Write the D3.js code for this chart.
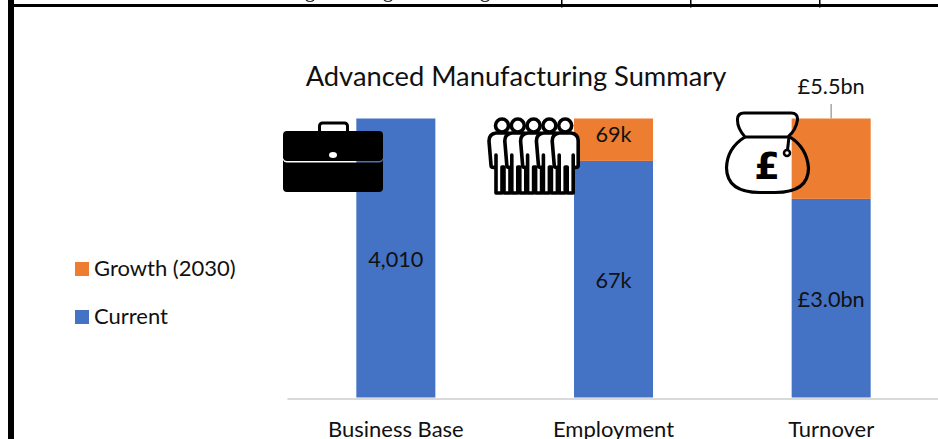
<!DOCTYPE html>
<html><head><meta charset="utf-8">
<script src="https://cdnjs.cloudflare.com/ajax/libs/d3/7.8.5/d3.min.js"></script>
<style>html,body{margin:0;padding:0;background:#fff;overflow:hidden}svg{display:block}text{font-family:Lato,"Open Sans",sans-serif;fill:#111}</style>
</head><body><svg id="c" width="938" height="439"></svg>
<script>
const categories=["Business Base","Employment","Turnover"];
const seriesNames=["Current","Growth (2030)"];
const currentShare=[100,84.8,71.2];
const growthShare=[0,15.2,28.8];
const currentLabels=["4,010","67k","£3.0bn"];
const growthLabels=["","69k","£5.5bn"];
const colors=["#4472c4","#ed7d31"];
const title="Advanced Manufacturing Summary";

const svg=d3.select("#c");
// page frame
svg.append("rect").attr("x",8).attr("y",0).attr("width",6).attr("height",439).attr("fill","#000");
svg.append("rect").attr("x",14).attr("y",4).attr("width",924).attr("height",3).attr("fill","#000");
[561,690,819].forEach(x=>svg.append("rect").attr("x",x).attr("y",0).attr("width",1.5).attr("height",7.5).attr("fill","#000"));
[310,388,485].forEach(x=>svg.append("path").attr("d",`M${x-4} 0q4 3 8 0`).attr("fill","none").attr("stroke","#222").attr("stroke-width",1.2));

const x=d3.scaleBand().domain(categories).range([287,940]).paddingInner(0.637).paddingOuter(0.3185);
const y=d3.scaleLinear().domain([0,100]).range([397.5,118.5]);
const rows=categories.map((c,i)=>({cat:c,[seriesNames[0]]:currentShare[i],[seriesNames[1]]:growthShare[i]}));
const stack=d3.stack().keys(seriesNames)(rows);
svg.selectAll("g.s").data(stack).join("g").attr("class","s").attr("fill",(d,i)=>colors[i])
 .selectAll("rect").data(d=>d).join("rect")
 .attr("x",d=>x(d.data.cat)).attr("width",x.bandwidth())
 .attr("y",d=>y(d[1])).attr("height",d=>y(d[0])-y(d[1]));

// axis
const ax=svg.append("g").attr("transform","translate(0,398.5)").call(d3.axisBottom(x).tickSize(0).tickPadding(23));
ax.select(".domain").attr("stroke","#d9d9d9").attr("stroke-width",2);
ax.selectAll("text").attr("font-size",22).style("font-family","Lato,sans-serif").attr("fill","#111");

svg.append("text").attr("x",516).attr("y",86).attr("text-anchor","middle").attr("font-size",27.3).text(title);

// data labels
const lab=(t,px,py)=>svg.append("text").attr("x",px).attr("y",py).attr("text-anchor","middle").attr("font-size",21.7).text(t);
categories.forEach((c,i)=>{
  const cx=x(c)+x.bandwidth()/2;
  lab(currentLabels[i],cx,[267,288,307][i]);
  if(i===1) lab(growthLabels[i],cx,142);
  if(i===2){
    lab(growthLabels[i],cx,94);
    svg.append("line").attr("x1",cx).attr("x2",cx).attr("y1",104).attr("y2",118.5).attr("stroke","#a6a6a6").attr("stroke-width",1.5);
  }
});

// legend
[[1,269],[0,317]].forEach(([i,ly])=>{
  svg.append("rect").attr("x",75).attr("y",ly-7).attr("width",14).attr("height",14).attr("fill",colors[i]);
  svg.append("text").attr("x",94).attr("y",ly+7).attr("font-size",22).text(seriesNames[i]);
});

// briefcase icon
const b=svg.append("g").attr("fill","#000");
b.append("path").attr("d","M319.500 132v-6a3 3 0 0 1 3-3h22a3 3 0 0 1 3 3v6").attr("fill","none").attr("stroke","#000").attr("stroke-width",3);
b.append("path").attr("d","M287 131h92a4 4 0 0 1 4 4v23q-1 3-4 3h-92q-3 0-4-3v-23a4 4 0 0 1 4-4z");
b.append("path").attr("d","M283 160q1 2.500 4 2.500h92q3 0 4-2.500v28a4 4 0 0 1-4 4h-92a4 4 0 0 1-4-4z");
b.append("ellipse").attr("cx",333).attr("cy",155).attr("rx",4).attr("ry",3).attr("fill","#fff");

// people icon
const ppl=svg.append("g").attr("fill","#fff").attr("stroke","#000").attr("stroke-width",3.6).attr("stroke-linejoin","round");
[0,1,2,3,4].forEach(k=>{
  const g=ppl.append("g").attr("transform",`translate(${502+k*15.8},0)`);
  g.append("path").attr("d","M-13 141q0-7 7-8h12q7 1 7 8v24q0 2.500-2.500 2.500t-2.500-2.500v-10v38h-6v-26h-2v26h-6v-38v10q0 2.500-2.500 2.500t-2.500-2.500z");
  g.append("circle").attr("cx",0).attr("cy",125.500).attr("r",6.500);
});

// money bag icon
const m=svg.append("g").attr("fill","none").attr("stroke","#000");
m.append("path").attr("stroke-width",3).attr("d","M745 137Q737 128 737.500 119Q738 113 744 113H791Q798 113 797.500 120Q796 130 788 137H745");
m.append("path").attr("stroke-width",3.2).attr("d","M745 137Q727 148 726.500 168Q727 192.500 760 192.500H775Q808.500 192.500 808.500 168Q807 148 790 137");
m.append("path").attr("stroke-width",3).attr("d","M789 137L787.500 150");
m.append("circle").attr("cx",787).attr("cy",153).attr("r",3).attr("fill","#fff").attr("stroke-width",2.5);
m.append("text").attr("x",767).attr("y",179).attr("text-anchor","middle").attr("font-size",37).attr("font-weight",700).style("font-family","'DejaVu Sans',sans-serif").style("fill","#000").attr("stroke","none").text("£");
</script></body></html>
